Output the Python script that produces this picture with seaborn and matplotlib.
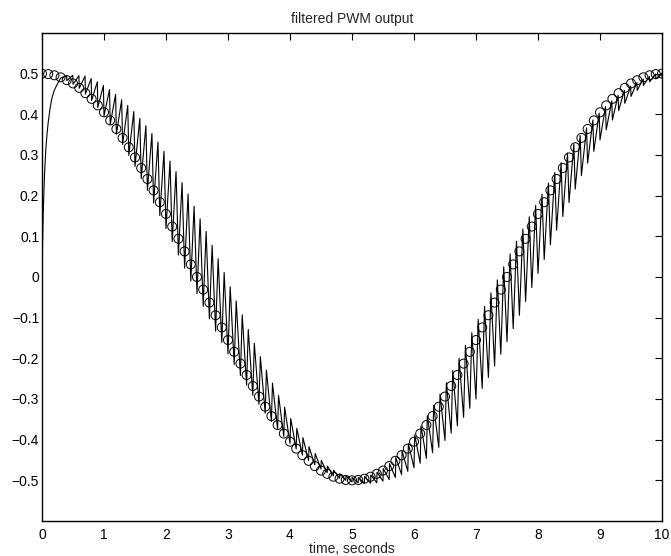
import numpy as np
import pandas as pd
import matplotlib
matplotlib.use("Agg")
import matplotlib.pyplot as plt
import seaborn as sns

# ---------------- data ----------------
title_text = "filtered PWM output"
x_label = "time, seconds"
x_ticks = [0, 1, 2, 3, 4, 5, 6, 7, 8, 9, 10]
y_ticks = [-0.5, -0.4, -0.3, -0.2, -0.1, 0, 0.1, 0.2, 0.3, 0.4, 0.5]
y_tick_labels = ["\u22120.5", "\u22120.4", "\u22120.3", "\u22120.2", "\u22120.1", "0",
                 "0.1", "0.2", "0.3", "0.4", "0.5"]

sample_step = 0.1  # seconds between circles / PWM periods

# reference sine (circles), one per sample
circle_values = [
    0.500, 0.499, 0.496, 0.491, 0.484, 0.476, 0.465, 0.452, 0.438, 0.422,
    0.405, 0.385, 0.364, 0.342, 0.319, 0.294, 0.268, 0.241, 0.213, 0.184,
    0.155, 0.124, 0.094, 0.063, 0.031, 0.000, -0.031, -0.063, -0.094, -0.124,
    -0.155, -0.184, -0.213, -0.241, -0.268, -0.294, -0.319, -0.342, -0.364, -0.385,
    -0.405, -0.422, -0.438, -0.452, -0.465, -0.476, -0.484, -0.491, -0.496, -0.499,
    -0.500, -0.499, -0.496, -0.491, -0.484, -0.476, -0.465, -0.452, -0.438, -0.422,
    -0.405, -0.385, -0.364, -0.342, -0.319, -0.294, -0.268, -0.241, -0.213, -0.184,
    -0.155, -0.124, -0.094, -0.063, -0.031, 0.000, 0.031, 0.063, 0.094, 0.124,
    0.155, 0.184, 0.213, 0.241, 0.268, 0.294, 0.319, 0.342, 0.364, 0.385,
    0.405, 0.422, 0.438, 0.452, 0.465, 0.476, 0.484, 0.491, 0.496, 0.499,
    0.500,
]

# initial filter charge-up (before the ripple is visible)
rise_times = [0.0, 0.01, 0.02, 0.04, 0.06, 0.08, 0.10, 0.13, 0.16, 0.20, 0.25]
rise_values = [0.0, 0.09, 0.16, 0.25, 0.31, 0.35, 0.38, 0.415, 0.44, 0.46, 0.475]

pwm_first_period = 3
# filtered output at the start of each PWM period (k = 3 .. 100)
pwm_trough = [
    0.489, 0.483, 0.474, 0.464, 0.450, 0.434, 0.417, 0.396, 0.375, 0.351,
    0.326, 0.299, 0.272, 0.242, 0.213, 0.182, 0.151, 0.119, 0.087, 0.054,
    0.022, -0.010, -0.041, -0.072, -0.103, -0.133, -0.161, -0.189, -0.215, -0.242,
    -0.266, -0.291, -0.313, -0.335, -0.355, -0.374, -0.392, -0.409, -0.423, -0.438,
    -0.451, -0.462, -0.472, -0.481, -0.489, -0.495, -0.500, -0.504, -0.506, -0.507,
    -0.507, -0.506, -0.502, -0.498, -0.493, -0.486, -0.478, -0.469, -0.458, -0.446,
    -0.432, -0.419, -0.402, -0.384, -0.366, -0.345, -0.323, -0.300, -0.274, -0.247,
    -0.219, -0.190, -0.159, -0.127, -0.094, -0.060, -0.026, 0.009, 0.043, 0.079,
    0.115, 0.149, 0.183, 0.216, 0.249, 0.280, 0.309, 0.337, 0.362, 0.386,
    0.409, 0.427, 0.444, 0.459, 0.471, 0.480, 0.487, 0.491,
]
# filtered output at the end of the high pulse (k = 3 .. 99)
pwm_peak = [
    0.495, 0.496, 0.495, 0.494, 0.488, 0.480, 0.471, 0.461, 0.449, 0.436,
    0.422, 0.407, 0.390, 0.372, 0.353, 0.332, 0.309, 0.285, 0.259, 0.232,
    0.204, 0.174, 0.143, 0.112, 0.078, 0.045, 0.011, -0.024, -0.059, -0.093,
    -0.129, -0.163, -0.196, -0.229, -0.261, -0.291, -0.320, -0.348, -0.372, -0.395,
    -0.417, -0.434, -0.451, -0.465, -0.475, -0.484, -0.489, -0.493, -0.493, -0.491,
    -0.487, -0.480, -0.471, -0.459, -0.444, -0.428, -0.410, -0.388, -0.366, -0.341,
    -0.316, -0.288, -0.260, -0.230, -0.200, -0.168, -0.137, -0.104, -0.072, -0.039,
    -0.007, 0.025, 0.057, 0.088, 0.118, 0.148, 0.176, 0.204, 0.231, 0.257,
    0.281, 0.305, 0.327, 0.348, 0.367, 0.386, 0.403, 0.419, 0.433, 0.447,
    0.459, 0.469, 0.478, 0.487, 0.493, 0.499, 0.501,
]
# PWM duty cycle of each period (k = 3 .. 99)
pwm_duty = [
    0.971, 0.965, 0.957, 0.946, 0.934, 0.921, 0.905, 0.888, 0.870, 0.850,
    0.829, 0.806, 0.782, 0.757, 0.731, 0.704, 0.677, 0.648, 0.619, 0.590,
    0.560, 0.530, 0.500, 0.470, 0.440, 0.410, 0.381, 0.352, 0.323, 0.296,
    0.269, 0.243, 0.218, 0.194, 0.171, 0.150, 0.130, 0.112, 0.095, 0.079,
    0.066, 0.054, 0.043, 0.035, 0.029, 0.024, 0.021, 0.020, 0.021, 0.024,
    0.029, 0.035, 0.043, 0.054, 0.066, 0.079, 0.095, 0.112, 0.130, 0.150,
    0.171, 0.194, 0.218, 0.243, 0.269, 0.296, 0.323, 0.352, 0.381, 0.410,
    0.440, 0.470, 0.500, 0.530, 0.560, 0.590, 0.619, 0.648, 0.677, 0.704,
    0.731, 0.757, 0.782, 0.806, 0.829, 0.850, 0.870, 0.888, 0.905, 0.921,
    0.934, 0.946, 0.957, 0.965, 0.971, 0.976, 0.979,
]

# ---------------- build tables ----------------
circle_df = pd.DataFrame({
    "t": np.arange(len(circle_values)) * sample_step,
    "y": circle_values,
})

period_idx = np.arange(pwm_first_period, pwm_first_period + len(pwm_trough))
trough_t = period_idx * sample_step
peak_t = (period_idx[:-1] + np.array(pwm_duty)) * sample_step
line_t = list(rise_times)
line_y = list(rise_values)
for i in range(len(pwm_peak)):
    line_t += [trough_t[i], peak_t[i]]
    line_y += [pwm_trough[i], pwm_peak[i]]
line_t.append(trough_t[-1])
line_y.append(pwm_trough[-1])
line_df = pd.DataFrame({"t": line_t, "y": line_y})

# ---------------- plot ----------------
sns.set_style("white")
plt.rcParams["font.family"] = ["Liberation Sans", "DejaVu Sans"]
plt.rcParams["axes.unicode_minus"] = True

fig = plt.figure(figsize=(6.71, 5.56), dpi=100)
ax = fig.add_axes([42 / 671, 1 - 521 / 556, 620 / 671, 488 / 556])

sns.lineplot(data=line_df, x="t", y="y", sort=False, estimator=None,
             color="black", linewidth=0.8, ax=ax, zorder=2)
sns.scatterplot(data=circle_df, x="t", y="y", marker="o", s=42,
                ax=ax, zorder=3, legend=False)
coll = ax.collections[-1]
coll.set_facecolor("none")
coll.set_edgecolor("black")
coll.set_linewidth(0.7)

ax.set_xlim(0, 10)
ax.set_ylim(-0.6, 0.6)
ax.set_xticks(x_ticks)
ax.set_xticklabels([str(v) for v in x_ticks])
ax.set_yticks(y_ticks)
ax.set_yticklabels(y_tick_labels)

ax.tick_params(direction="in", top=True, right=True, length=5, width=0.8,
               labelsize=10, colors="black")
ax.tick_params(axis="x", pad=5)
ax.tick_params(axis="y", pad=2)
for sp in ax.spines.values():
    sp.set_visible(True)
    sp.set_color("black")
    sp.set_linewidth(1.0)

ax.set_xlabel(x_label, fontsize=10, labelpad=0)
ax.set_ylabel("")
ax.set_title(title_text, fontsize=10, pad=7)

fig.savefig("out.png", dpi=100)
